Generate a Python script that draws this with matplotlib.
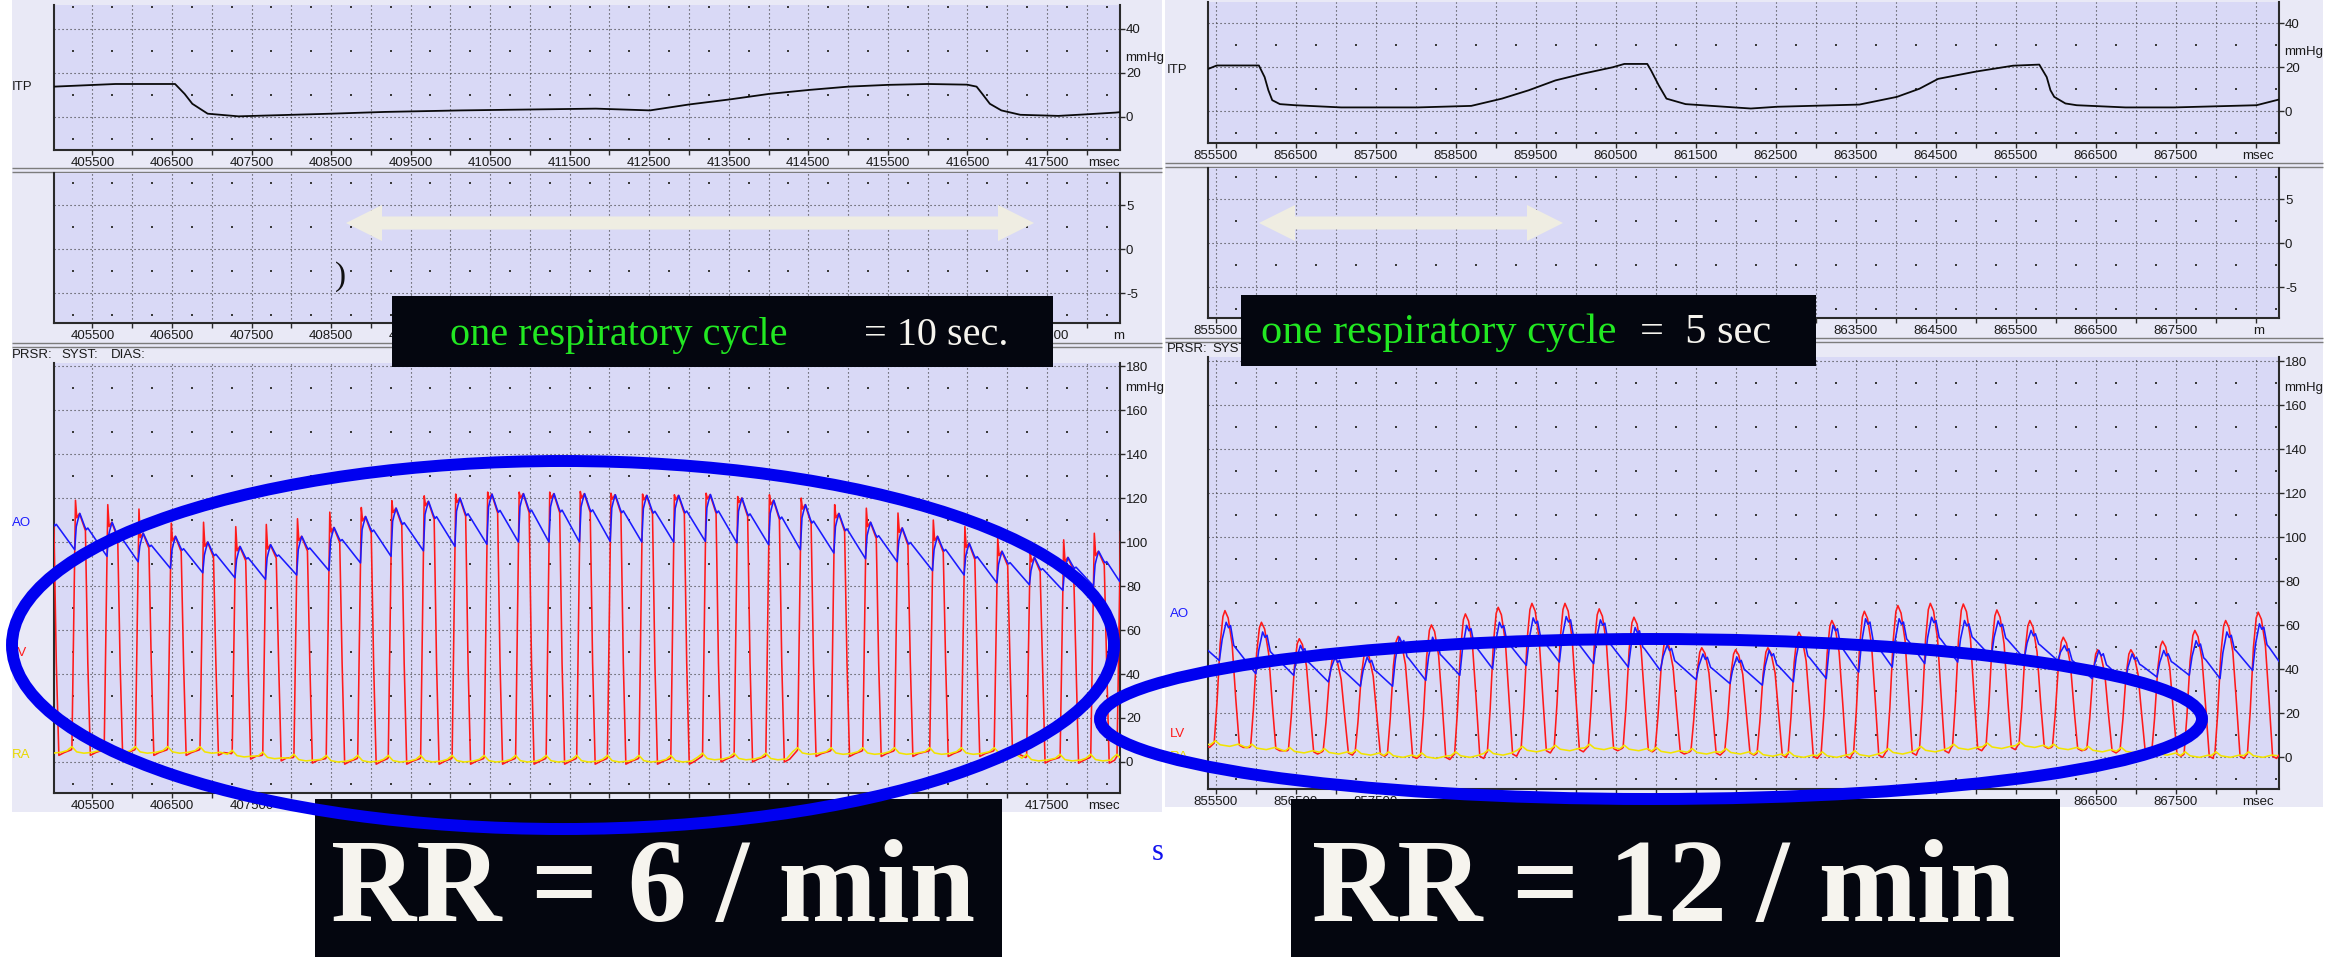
import numpy as np
import matplotlib
matplotlib.use("Agg")
import matplotlib.pyplot as plt
from matplotlib.patches import Rectangle, Ellipse, Polygon

plt.rcParams['font.family'] = ['Liberation Sans', 'DejaVu Sans']
SERIF = ['Liberation Serif', 'DejaVu Serif']

# ======================= DATA =======================
# ---- Left recording (RR = 6 / min) ----
itp_left_t = [405017, 405790, 406539, 406659, 406756, 406949, 407336, 408495, 409171, 410138,
              411829, 412510, 413002, 413514, 414007, 414510, 415002, 415500, 416002, 416495,
              416615, 416687, 416782, 416926, 417165, 417643, 417988, 418361, 418418]
itp_left_v = [13.8, 15.0, 15.0, 10.5, 6.0, 1.5, 0.3, 1.5, 2.3, 3.0,
              3.8, 3.0, 5.7, 8.0, 10.5, 12.3, 13.8, 14.6, 15.0, 14.7,
              13.8, 10.5, 6.0, 3.0, 1.0, 0.5, 1.2, 2.0, 2.2]
beat_onset_left = [404846, 405242, 405648, 406040, 406446, 406852, 407257, 407641, 408033, 408439,
                   408835, 409219, 409626, 410022, 410424, 410820, 411204, 411588, 411974, 412371,
                   412771, 413170, 413567, 413966, 414365, 414786, 415184, 415582, 416026, 416423,
                   416836, 417244, 417665, 418050, 418380]
lv_peak_left = [110, 119, 117, 115, 108.6, 109, 107, 108, 110.6, 113.6,
                115.7, 118.8, 121, 121.8, 122.7, 122.7, 122.7, 123, 122.2, 121.8,
                121.5, 122.2, 120.7, 121.5, 120, 117, 115.4, 113.2, 110, 107,
                101.8, 95.8, 101, 104, 105]
ao_min_left = [96, 96.5, 93.5, 91, 88, 86, 83.7, 83, 85, 87,
               90.5, 93.5, 96, 98, 99, 100, 100, 100, 100.3, 100,
               100, 100.3, 99.6, 98.8, 96.5, 95, 92.4, 91, 87, 85,
               81.4, 80.6, 78, 80, 82]
ao_peak_left = [114, 113, 109, 104, 102.6, 100, 98, 98.8, 102.6, 106.6,
                111.6, 115.4, 118.5, 120, 121.8, 122, 122, 122, 121.5, 121.2,
                121.2, 121.6, 120, 119, 117, 113, 109, 106.4, 102.6, 99.5,
                95.8, 93, 93, 95.8, 96]
ra_left = [4, 4, 4, 4, 4, 4, 2.3, 1.5, 0.5, 0,
           0, 0, 0, 0, 0, 0, 0, 0, 0, 0,
           0, 1, 1, 1, 3.5, 3.5, 3.5, 3.5, 3.5, 3.5,
           3.5, 0.5, 0.5, 0.5, 0.5]

# ---- Right recording (RR = 12 / min) ----
itp_right_t = [855400, 855510, 856036, 856108, 856155, 856203, 856299, 856490, 857065, 858022,
               858691, 859074, 859409, 859744, 860079, 860462, 860605, 860892, 860940, 861036,
               861132, 861371, 862186, 862514, 863544, 864013, 864294, 864528, 864997, 865465,
               865793, 865886, 865933, 865980, 866120, 866261, 866870, 867479, 868509, 868790]
itp_right_v = [19.2, 20.8, 20.8, 15.5, 9.5, 5.0, 3.2, 2.7, 1.7, 1.7,
               2.4, 5.7, 9.5, 14.0, 17.0, 20.0, 21.5, 21.5, 18.5, 11.7,
               5.7, 3.2, 1.2, 2.0, 3.0, 6.5, 10.2, 14.7, 18.0, 20.7,
               21.2, 15.5, 9.5, 6.5, 3.5, 2.7, 1.7, 1.7, 2.7, 5.3]
beat_peak_right = [855190, 855612, 856068, 856541, 856975, 857375, 857778, 858193, 858618, 859028,
                   859450, 859863, 860291, 860725, 861125, 861573, 861996, 862400, 862788, 863200,
                   863606, 864025, 864431, 864843, 865263, 865675, 866093, 866523, 866938, 867334,
                   867738, 868123, 868530]
lv_peak_right = [60, 66.7, 61.4, 53.9, 46, 48, 55, 60.2, 65.2, 68.2,
                 70, 70, 67.5, 63.7, 53, 49.8, 48.9, 49.8, 56.9, 62.2,
                 66.4, 69, 70, 69.7, 67, 62.2, 54.6, 48.9, 48.9, 52.8,
                 57.7, 62.2, 66]
ao_min_right = [42, 44, 38, 37.3, 34.3, 32.3, 32.3, 35, 37.3, 40.3,
                41.8, 43.3, 42.6, 41, 39.5, 35.3, 33.5, 32.8, 34.3, 35.8,
                38.8, 41, 42.6, 43.3, 45.6, 44.8, 44, 35.8, 34, 36.5,
                37.3, 35.8, 39.5]
ao_peak_right = [58, 61.4, 57, 50.9, 45.6, 45.6, 54.6, 54.6, 60, 61.4,
                 63.4, 64, 62.5, 59, 51, 47, 45.6, 48.6, 54.6, 60,
                 63, 63, 63.7, 62.2, 62, 57.7, 50.9, 48.6, 47, 48.6,
                 53, 57, 60.7]
ra_right = [5, 5, 3.5, 2, 1.5, 1, 0, -0.5, 0, 1,
            2.5, 3, 3.5, 3, 2, 1.5, 1.5, 0.5, 0, 0,
            0.5, 1.5, 2.5, 3.5, 4, 4.5, 3.5, 2.5, 2, 1,
            0, 0, 0]

# ---- axis labels ----
xlabels_left = ['405500', '406500', '407500', '408500', '409500', '410500', '411500',
                '412500', '413500', '414500', '415500', '416500', '417500']
xlabels_right = ['855500', '856500', '857500', '858500', '859500', '860500', '861500',
                 '862500', '863500', '864500', '865500', '866500', '867500']
# labels that sit under the black annotation boxes (not visible in the slide)
hidden_mid_left = ['410500', '411500', '412500', '413500', '414500', '415500', '416500']
hidden_prs_left = ['408500', '409500', '410500', '411500', '412500', '413500', '414500',
                   '415500', '416500']
hidden_mid_right = ['856500', '857500', '858500', '859500', '860500', '861500', '862500']
hidden_prs_right = ['858500', '859500', '860500', '861500', '862500', '863500', '864500',
                    '865500']
itp_ticks = [0, 20, 40]
itp_ticklabels = ['0', '20', '40']
mid_ticks = [-5, 0, 5]
mid_ticklabels = ['-5', '0', '5']
prs_ticks = [0, 20, 40, 60, 80, 100, 120, 140, 160, 180]
prs_ticklabels = ['0', '20', '40', '60', '80', '100', '120', '140', '160', '180']


# ======================= WAVEFORM ASSEMBLY (from per-beat readings) =======================
def left_waves(t_on, lvp, aomn, aopk, ra):
    n = len(t_on)
    lt, lv, at, av, rt, rv = [], [], [], [], [], []
    for i in range(n):
        t0 = t_on[i]
        last = (i == n - 1)
        t1 = t_on[i + 1] if not last else t0 + 400
        m1 = aomn[i + 1] if not last else aomn[i]
        r0 = ra[i]
        r1 = ra[i + 1] if not last else r0
        p, a = lvp[i], aopk[i]
        d = a - m1
        lt += [t0, t0 + 45, t0 + 62, t0 + 95, t0 + 170, t0 + 200, t0 + 232, t0 + 300, t1 - 10]
        lv += [r0 + 2, p, a - 2, a, a - 0.3 * d - 2, 45, r0 - 1, r0 + 0.3, r1 + 1.5]
        at += [t0 + 35, t0 + 55, t0 + 75, t0 + 100, t0 + 160, t0 + 180, t0 + 200]
        av += [aomn[i], a - 6, a - 3, a, a - 0.3 * d, a - 0.38 * d, a - 0.34 * d]
        rt += [t0, t0 + 60, t0 + 150, t0 + 260, t1 - 60]
        rv += [r0 + 3, r0 + 0.6, r0, r0 + 0.4, r1 + 1.2]
    at.append(t1 + 35)
    av.append(m1)
    return lt, lv, at, av, rt, rv


def right_waves(t_pk, lvp, aomn, aopk, ra):
    n = len(t_pk)
    lt, lv, at, av, rt, rv = [], [], [], [], [], []
    for i in range(n):
        tp = t_pk[i]
        last = (i == n - 1)
        tn = t_pk[i + 1] if not last else tp + 410
        m1 = aomn[i + 1] if not last else aomn[i]
        r0 = ra[i]
        r1 = ra[i + 1] if not last else r0
        p, a = lvp[i], aopk[i]
        e = r0 + 1.5
        lt += [tp - 135, tp - 100, tp - 60, tp - 25, tp, tp + 40, tp + 90, tp + 135, tp + 180, tp + 230, tn - 150]
        lv += [e, e + 0.3 * (p - e), e + 0.75 * (p - e), 0.96 * p, p, 0.95 * p, 0.77 * p, 0.4 * p,
               r0 + 0.5, r0 - 0.5, r1 + 1]
        at += [tp - 70, tp - 35, tp + 15, tp + 45, tp + 70, tp + 110, tp + 135]
        av += [aomn[i], aomn[i] + 0.55 * (a - aomn[i]), a, a - 2.5, a - 1.5,
               a - 0.45 * (a - m1), a - 0.5 * (a - m1)]
        rt += [tp - 120, tp - 60, tp + 60, tp + 170, tn - 180]
        rv += [r0 + 2.5, r0 + 0.7, r0, r0 + 1, r1 + 0.8]
    at.append(tn - 70)
    av.append(m1)
    return lt, lv, at, av, rt, rv


# ======================= FIGURE =======================
W, H = 2338, 957
fig = plt.figure(figsize=(W / 100, H / 100), dpi=100)
fig.patch.set_facecolor('white')

OUT_BG = '#e9e9f6'
PLOT_BG = '#d9d9f6'
INK = '#2a2a2a'
GRIDC = '#3a3a3a'
TXT = '#1a1a1a'
LVC, AOC, RAC = '#ff1a1a', '#1a1aff', '#f2e400'
TRACE_LW = 1.15


def frac(x0, y0, x1, y1):
    return [x0 / W, 1 - y1 / H, (x1 - x0) / W, (y1 - y0) / H]


bg = fig.add_axes([0, 0, 1, 1], zorder=0)
bg.set_xlim(0, W)
bg.set_ylim(H, 0)
bg.axis('off')
bg.add_patch(Rectangle((11.5, 0), 1150.5, 812, fc=OUT_BG, ec='none'))
bg.add_patch(Rectangle((1165, 0), 1158, 807, fc=OUT_BG, ec='none'))
for xa, xb, ys in [(11.5, 1162, [168, 172, 343, 347]), (1165, 2323, [163, 167, 338, 341.5])]:
    for y in ys:
        bg.plot([xa, xb], [y, y], color='#7c7c7c', lw=1.0, solid_capstyle='butt')

# channel labels
lab = dict(fontsize=9.5, va='center', ha='left', color=TXT)
bg.text(12, 87, 'ITP', **lab)
bg.text(12, 355, 'PRSR:', **lab)
bg.text(61, 355, 'SYST:', **lab)
bg.text(111, 355, 'DIAS:', **lab)
bg.text(12, 523, 'AO', **{**lab, 'color': '#1a1aff'})
bg.text(12, 653, 'LV', **{**lab, 'color': '#ff1a1a'})
bg.text(12, 755, 'RA', **{**lab, 'color': '#e8d800'})
bg.text(1167, 70, 'ITP', **lab)
bg.text(1167, 349, 'PRSR:', **lab)
bg.text(1212, 349, 'SYST:', **lab)
bg.text(1170, 614, 'AO', **{**lab, 'color': '#1a1aff'})
bg.text(1170, 734, 'LV', **{**lab, 'color': '#ff1a1a'})
bg.text(1170, 757, 'RA', **{**lab, 'color': '#e8d800'})

DOT = (0, (1, 2.6))


def panel(xpx, ypx, xlim, ylim, grid_y, dot_y, yticks, ylabels, xlabels, xfirst,
          end_text, end_t, end_ha='center', unit_y=None, hidden=()):
    ax = fig.add_axes(frac(xpx[0], ypx[0], xpx[1], ypx[1]), zorder=2)
    ax.set_facecolor(PLOT_BG)
    ax.set_xlim(*xlim)
    ax.set_ylim(*ylim)
    ax.spines['top'].set_visible(False)
    for s in ('left', 'bottom', 'right'):
        ax.spines[s].set_color(INK)
        ax.spines[s].set_linewidth(1.5)
    t500 = np.arange(np.ceil(xlim[0] / 500) * 500, xlim[1], 500)
    for t in t500:
        ax.axvline(t, color=GRIDC, lw=0.8, ls=DOT, zorder=0.5)
    for y in grid_y:
        ax.axhline(y, color=GRIDC, lw=0.8, ls=DOT, zorder=0.5)
    dx = np.concatenate([[t500[0] - 250], t500 + 250])
    dx = dx[(dx > xlim[0]) & (dx < xlim[1])]
    DX, DY = np.meshgrid(dx, dot_y)
    ax.scatter(DX.ravel(), DY.ravel(), s=1.3, c=GRIDC, marker='s', linewidths=0, zorder=0.6)
    labs = []
    for t in t500:
        k = int(round((t - xfirst) / 1000.0))
        if abs(t - (xfirst + 1000 * k)) < 1 and 0 <= k < len(xlabels) and xlabels[k] not in hidden:
            labs.append(xlabels[k])
        else:
            labs.append('')
    ax.set_xticks(t500, labs)
    ax.tick_params(axis='x', direction='out', length=3.5, width=1, color=INK, pad=1.5,
                   labelsize=9.5, labelcolor=TXT)
    ax.yaxis.tick_right()
    ax.set_yticks(yticks, ylabels)
    ax.tick_params(axis='y', direction='out', length=3.5, width=1, color=INK, pad=0.8,
                   labelsize=9.5, labelcolor=TXT)
    ax.annotate(end_text, xy=(end_t, 0), xycoords=('data', 'axes fraction'),
                xytext=(0, -5), textcoords='offset points', ha=end_ha, va='top',
                fontsize=9.5, color=TXT, annotation_clip=False)
    if unit_y is not None:
        ax.annotate('mmHg', xy=(1, unit_y), xycoords=('axes fraction', 'data'),
                    xytext=(4, 0), textcoords='offset points', ha='left', va='center',
                    fontsize=9.5, color=TXT, annotation_clip=False)
    return ax


LX, RX = (54, 1120), (1208, 2279)
XL, XR = (405017, 418418), (855400, 868790)
itp_dots = [-10, 10, 30, 50]
mid_dots = [-7.5, -2.5, 2.5, 7.5]
prs_dots = [-10, 10, 30, 50, 70, 90, 110, 130, 150, 170]

# ---- Left chart ----
a1 = panel(LX, (5, 150), XL, (-15, 50.9), itp_ticks, itp_dots, itp_ticks, itp_ticklabels,
           xlabels_left, 405500, 'msec', 418216, unit_y=27)
a1.plot(itp_left_t, itp_left_v, color='#0a0a0a', lw=1.3, zorder=3)
a2 = panel(LX, (173, 323), XL, (-8.4, 8.64), mid_ticks, mid_dots, mid_ticks, mid_ticklabels,
           xlabels_left, 405500, 'm', 418330, end_ha='left', hidden=hidden_mid_left)
a3 = panel(LX, (363, 793), XL, (-14.1, 181.4), prs_ticks, prs_dots, prs_ticks, prs_ticklabels,
           xlabels_left, 405500, 'msec', 418216, unit_y=170, hidden=hidden_prs_left)
lt, lv, at, av, rt, rv = left_waves(beat_onset_left, lv_peak_left, ao_min_left, ao_peak_left, ra_left)
a3.plot(lt, lv, color=LVC, lw=TRACE_LW, zorder=3)
a3.plot(rt, rv, color=RAC, lw=TRACE_LW, zorder=3.5)
a3.plot(at, av, color=AOC, lw=TRACE_LW, zorder=4)

# ---- Right chart ----
b1 = panel(RX, (2, 143), XR, (-14.5, 49.7), itp_ticks, itp_dots, itp_ticks, itp_ticklabels,
           xlabels_right, 855500, 'msec', 868530, unit_y=27)
b1.plot(itp_right_t, itp_right_v, color='#0a0a0a', lw=1.3, zorder=3)
b2 = panel(RX, (168, 318), XR, (-8.5, 8.56), mid_ticks, mid_dots, mid_ticks, mid_ticklabels,
           xlabels_right, 855500, 'm', 868470, end_ha='left', hidden=hidden_mid_right)
b3 = panel(RX, (357, 789), XR, (-14.4, 182), prs_ticks, prs_dots, prs_ticks, prs_ticklabels,
           xlabels_right, 855500, 'msec', 868530, unit_y=168, hidden=hidden_prs_right)
lt, lv, at, av, rt, rv = right_waves(beat_peak_right, lv_peak_right, ao_min_right, ao_peak_right, ra_right)
b3.plot(lt, lv, color=LVC, lw=TRACE_LW, zorder=3)
b3.plot(rt, rv, color=RAC, lw=TRACE_LW, zorder=3.5)
b3.plot(at, av, color=AOC, lw=TRACE_LW, zorder=4)

# ======================= OVERLAY ANNOTATIONS =======================
ov = fig.add_axes([0, 0, 1, 1], zorder=10)
ov.set_xlim(0, W)
ov.set_ylim(H, 0)
ov.axis('off')

BOX = '#04060f'
GREEN = '#22e822'
WHITE = '#f6f4ee'
ARROW = '#efede2'


def double_arrow(xl, xr, yc, shaft=6.5, head=18, hl=36):
    pts = [(xl, yc), (xl + hl, yc - head), (xl + hl, yc - shaft), (xr - hl, yc - shaft),
           (xr - hl, yc - head), (xr, yc), (xr - hl, yc + head), (xr - hl, yc + shaft),
           (xl + hl, yc + shaft), (xl + hl, yc + head)]
    ov.add_patch(Polygon(pts, closed=True, fc=ARROW, ec='none', zorder=1))


double_arrow(346, 1034, 223)
double_arrow(1259, 1563, 223)
ov.text(340, 277, ')', fontsize=24, family=SERIF, ha='center', va='center', color='#111111', zorder=2)

ov.add_patch(Rectangle((392, 296), 661, 71, fc=BOX, ec='none', zorder=1))
ov.add_patch(Rectangle((1241, 295), 575, 71, fc=BOX, ec='none', zorder=1))
ov.add_patch(Rectangle((314.6, 799), 687.4, 158, fc=BOX, ec='none', zorder=1))
ov.add_patch(Rectangle((1291, 799), 769, 158, fc=BOX, ec='none', zorder=1))

ov.text(450, 345, 'one respiratory cycle', fontsize=29, family=SERIF, color=GREEN, va='baseline', zorder=2)
ov.text(864, 345, '= 10 sec.', fontsize=29, family=SERIF, color=WHITE, va='baseline', zorder=2)
ov.text(1261, 343, 'one respiratory cycle', fontsize=30.5, family=SERIF, color=GREEN, va='baseline', zorder=2)
ov.text(1640, 343, '=  5 sec', fontsize=30.5, family=SERIF, color=WHITE, va='baseline', zorder=2)

ov.text(331, 921, 'RR = 6 / min', fontsize=85, family=SERIF, weight='bold', color=WHITE,
        va='baseline', zorder=2)
ov.text(1312, 921, 'RR = 12 / min', fontsize=85, family=SERIF, weight='bold', color=WHITE,
        va='baseline', zorder=2)
ov.text(1158, 860, 's', fontsize=22, family=SERIF, color='#1010ee', ha='center', va='baseline', zorder=2)

ov.add_patch(Ellipse((563, 645), 1102, 368, fill=False, ec='#0000f0', lw=8.6, zorder=3))
ov.add_patch(Ellipse((1651, 719), 1102, 160, fill=False, ec='#0000f0', lw=8.6, zorder=3))

fig.savefig('out.png', dpi=100)
